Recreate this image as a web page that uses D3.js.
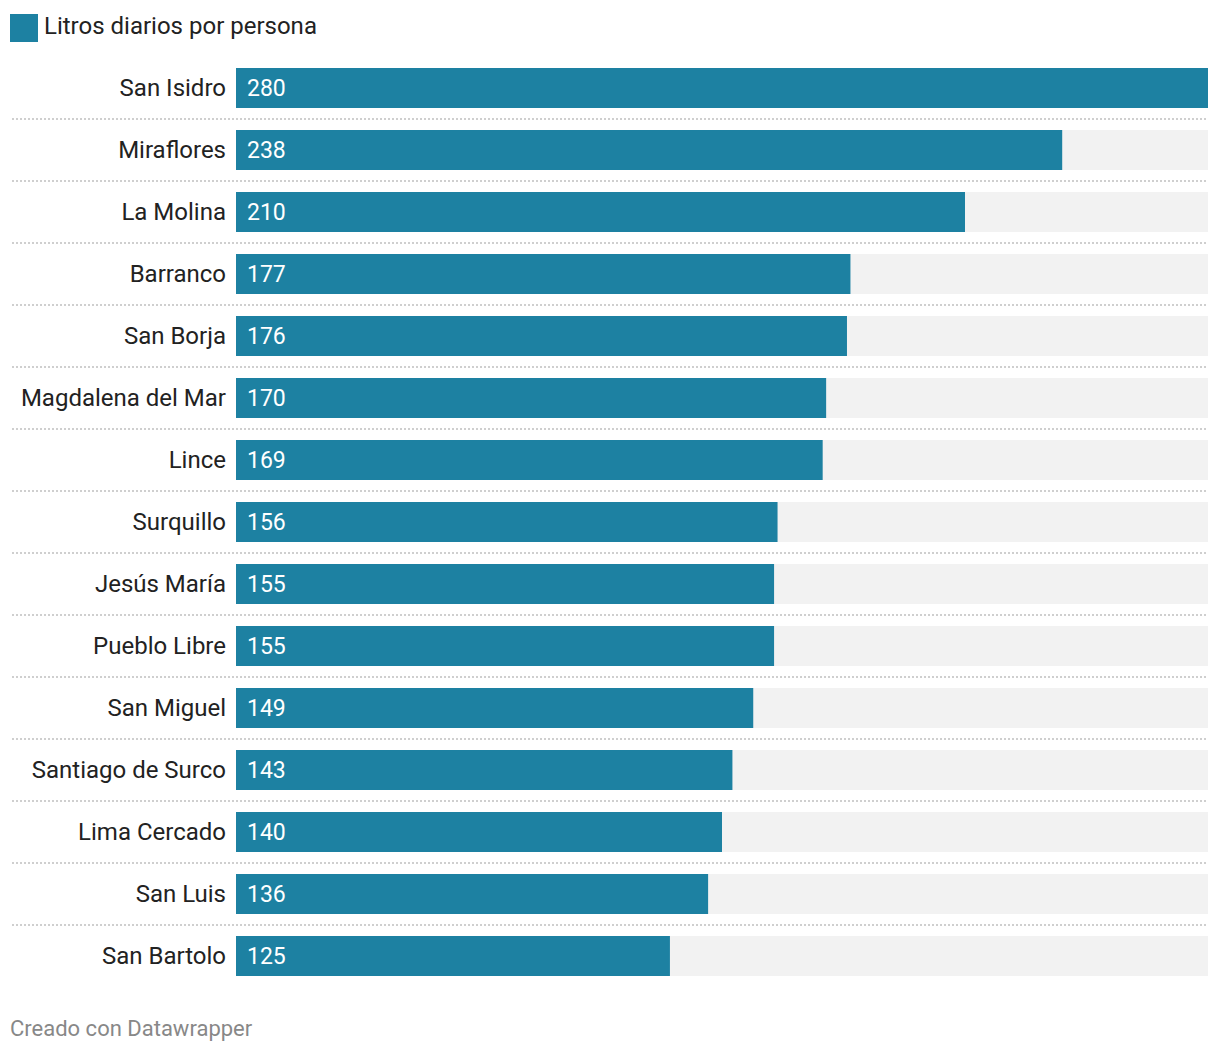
<!DOCTYPE html>
<html><head><meta charset="utf-8">
<script src="https://cdn.jsdelivr.net/npm/d3@7"></script>
<style>body{margin:0;background:#fff;font-family:Roboto,sans-serif}</style>
</head><body>
<svg id="c" width="1220" height="1054"></svg>
<script>
const categories = ["San Isidro","Miraflores","La Molina","Barranco","San Borja","Magdalena del Mar","Lince","Surquillo","Jesús María","Pueblo Libre","San Miguel","Santiago de Surco","Lima Cercado","San Luis","San Bartolo"];
const values = [280,238,210,177,176,170,169,156,155,155,149,143,140,136,125];
const seriesName = "Litros diarios por persona";
const footer = "Creado con Datawrapper";

const svg = d3.select("#c");
const color = "#1d81a2";
const x = d3.scaleLinear().domain([0, 280]).range([236, 1208]);
// first bar top at 68, last bar bottom at 976; step 62, bar 40
const y = d3.scaleBand().domain(categories).range([68, 976]).paddingInner(22/62).paddingOuter(0);

const data = categories.map((c,i)=>({cat:c, val:values[i]}));

// legend
svg.append("rect").attr("x",10).attr("y",14).attr("width",28).attr("height",28).attr("fill",color);
svg.append("text").attr("x",44).attr("y",34).attr("font-size",24).attr("fill","#222").text(seriesName);

const bw = y.bandwidth();
const rows = svg.append("g").selectAll("g").data(data).join("g")
  .attr("transform", d => `translate(0,${y(d.cat)})`);

rows.append("rect").attr("x",x(0)).attr("y",0).attr("width",x(280)-x(0)).attr("height",bw).attr("fill","#f2f2f2");
rows.append("rect").attr("x",x(0)).attr("y",0).attr("width",d=>x(d.val)-x(0)).attr("height",bw).attr("fill",color);
rows.append("text").attr("x",226).attr("y",bw*0.7).attr("text-anchor","end").attr("font-size",24).attr("fill","#222").text(d=>d.cat);
rows.append("text").attr("x",x(0)+11).attr("y",bw*0.7).attr("font-size",23).attr("fill","#fff").text(d=>d.val);
rows.filter((d,i)=>i<data.length-1).append("line")
  .attr("x1",12).attr("x2",1208).attr("y1",y.step()-11).attr("y2",y.step()-11)
  .attr("stroke","#cfcfcf").attr("stroke-width",2).attr("stroke-dasharray","2,2");

svg.append("text").attr("x",10).attr("y",1036).attr("font-size",22).attr("fill","#888").text(footer);
</script>
</body></html>
